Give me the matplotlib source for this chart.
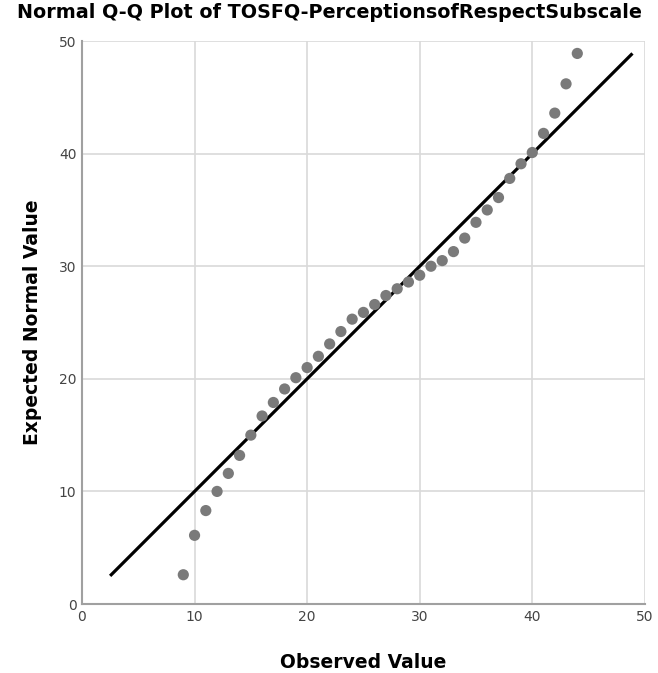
import matplotlib
matplotlib.use("Agg")
import matplotlib.pyplot as plt

observed = [9, 10, 11, 12, 13, 14, 15, 16, 17, 18, 19, 20, 21, 22, 23, 24, 25, 26,
            27, 28, 29, 30, 31, 32, 33, 34, 35, 36, 37, 38, 39, 40, 41, 42, 43, 44]
expected = [2.6, 6.1, 8.3, 10.0, 11.6, 13.2, 15.0, 16.7, 17.9, 19.1, 20.1, 21.0,
            22.0, 23.1, 24.2, 25.3, 25.9, 26.6, 27.4, 28.0, 28.6, 29.2, 30.0, 30.5,
            31.3, 32.5, 33.9, 35.0, 36.1, 37.8, 39.1, 40.1, 41.8, 43.6, 46.2, 48.9]
ref_line = [2.6, 48.8]
ticks = [0, 10, 20, 30, 40, 50]

plt.rcParams['font.family'] = ['DejaVu Sans']

fig = plt.figure(figsize=(6.58, 6.73), dpi=100)
ax = fig.add_axes([0.1246, 0.1025, 0.8554, 0.8365])

ax.plot(ref_line, ref_line, color='black', lw=2.3, zorder=3)
ax.scatter(observed, expected, s=65, color='#7a7a7a', edgecolors='none', zorder=4)

ax.set_xlim(0, 50)
ax.set_ylim(0, 50)
ax.set_xticks(ticks)
ax.set_yticks(ticks)
ax.grid(True, color='#d9d9d9', lw=1.2)
ax.set_axisbelow(True)
for s in ['top', 'right']:
    ax.spines[s].set_visible(False)
for s in ['left', 'bottom']:
    ax.spines[s].set_color('#a0a0a0')
    ax.spines[s].set_linewidth(1.5)
ax.tick_params(length=0, labelsize=10, labelcolor='#444444', pad=4)

ax.set_xlabel('Observed Value', fontsize=13.5, fontweight='bold', labelpad=21)
ax.set_ylabel('Expected Normal Value', fontsize=13.5, fontweight='bold', labelpad=12)
fig.text(0.5, 0.982, 'Normal Q-Q Plot of TOSFQ-PerceptionsofRespectSubscale',
         ha='center', va='center', fontsize=13.8, fontweight='bold')

fig.savefig('out.png', dpi=100)
